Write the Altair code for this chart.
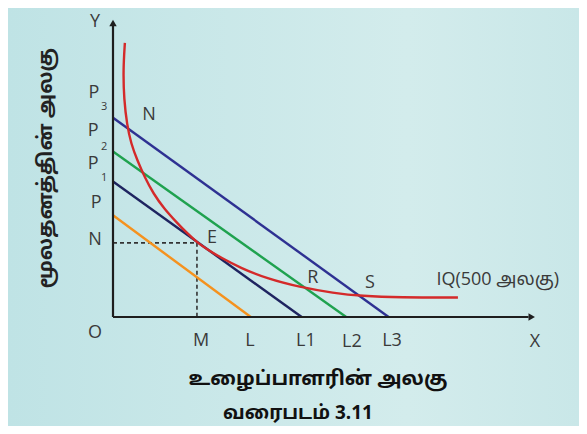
import altair as alt
import pandas as pd

# ---- data (abstract units: x 0..20, y 0..15) ----
line_names = ["L", "L1", "L2", "L3"]
line_y_intercepts = [5.1, 6.8, 8.3, 10.0]
line_x_intercepts = [6.5, 8.9, 11.0, 13.0]
line_colors = ["#f5921e", "#1e2460", "#1fa24f", "#2e3192"]

iq_x = [0.56, 0.48, 0.52, 0.66, 0.85, 1.15, 1.5, 1.9, 2.4, 3.0, 3.5, 3.96, 4.5,
        5.05, 6.0, 7.25, 8.8, 10.4, 11.75, 13.5, 16.27]
iq_y = [13.75, 12.4, 10.9, 9.65, 8.7, 7.85, 7.0, 6.2, 5.45, 4.75, 4.2, 3.75, 3.35,
        3.0, 2.47, 1.93, 1.5, 1.2, 1.05, 0.98, 0.98]

e_x, e_y = 3.96, 3.72

label_text = ["Y", "P", "P", "P", "P", "N", "O", "M", "L", "L1", "L2", "L3", "X",
              "N", "E", "R", "S", "IQ(500 அலகு)"]
label_x = [-0.85, -0.9, -0.94, -0.94, -0.8, -0.85, -0.85, 4.15, 6.46, 9.1, 11.27, 13.16, 19.9,
           1.7, 4.67, 9.43, 12.12, 18.15]
label_y = [14.8, 11.24, 9.33, 7.68, 5.72, 3.86, -0.8, -1.2, -1.2, -1.2, -1.25, -1.2, -1.25,
           10.14, 3.96, 1.96, 1.7, 1.86]

sub_text = ["3", "2", "1"]
sub_x = [-0.42, -0.42, -0.42]
sub_y = [10.54, 8.53, 6.97]

y_title = "மூலதனத்தின் அலகு"
x_title = "உழைப்பாளரின் அலகு"
caption = "வரைபடம் 3.11"

# ---- tables ----
rows = []
for n, yi, xi in zip(line_names, line_y_intercepts, line_x_intercepts):
    rows.append({"name": n, "x": 0.0, "y": yi})
    rows.append({"name": n, "x": xi, "y": 0.0})
lines_df = pd.DataFrame(rows)
iq_df = pd.DataFrame({"x": iq_x, "y": iq_y, "i": list(range(len(iq_x)))})
lab_df = pd.DataFrame({"t": label_text, "x": label_x, "y": label_y})
sub_df = pd.DataFrame({"t": sub_text, "x": sub_x, "y": sub_y})

xs = alt.Scale(domain=[0, 20], nice=False, zero=False)
ys = alt.Scale(domain=[0, 15], nice=False, zero=False)
X = lambda f="x": alt.X(f, type="quantitative", scale=xs, axis=None)
Y = lambda f="y": alt.Y(f, type="quantitative", scale=ys, axis=None)

one = pd.DataFrame({"a": [0]})
bg = alt.Chart(one).mark_rect(
    color=alt.LinearGradient(gradient="linear", x1=0, y1=0, x2=1, y2=0,
                             stops=[alt.GradientStop(color="#bfe3e5", offset=0),
                                    alt.GradientStop(color="#d3ecec", offset=0.7),
                                    alt.GradientStop(color="#c9e7e8", offset=1)])
).encode(x=alt.value(-105), x2=alt.value(466), y=alt.value(-10), y2=alt.value(408))

axes_df = pd.DataFrame({"x": [0, 0], "y": [0, 0], "x2": [0, 19.6], "y2": [14.6, 0]})
axes = alt.Chart(axes_df).mark_rule(color="#1e1e1e", strokeWidth=2.2).encode(
    x=X(), y=Y(), x2="x2", y2="y2")
arrows_df = pd.DataFrame({"x": [0, 19.75], "y": [14.75, 0], "s": ["triangle-up", "triangle-right"]})
arrows = alt.Chart(arrows_df).mark_point(filled=True, opacity=1, color="#1e1e1e", size=55).encode(
    x=X(), y=Y(), shape=alt.Shape("s:N", scale=None, legend=None))

dash_df = pd.DataFrame({"x": [0, e_x], "y": [e_y, e_y], "x2": [e_x, e_x], "y2": [e_y, 0]})
dashes = alt.Chart(dash_df).mark_rule(color="#333333", strokeWidth=1.6, strokeDash=[4, 3]).encode(
    x=X(), y=Y(), x2="x2", y2="y2")

budget = alt.Chart(lines_df).mark_line(strokeWidth=2.4).encode(
    x=X(), y=Y(), detail="name:N",
    color=alt.Color("name:N", scale=alt.Scale(domain=line_names, range=line_colors), legend=None))

iq = alt.Chart(iq_df).mark_line(color="#d42a2a", strokeWidth=2.4, interpolate="basis").encode(
    x=X(), y=Y(), order="i:Q")

tamil_font = "Noto Sans Tamil, Lohit Tamil, Latha, sans-serif"
labels = alt.Chart(lab_df).mark_text(font="Open Sans, " + tamil_font, fontSize=18, color="#3a3a3a").encode(
    x=X(), y=Y(), text="t:N")
subs = alt.Chart(sub_df).mark_text(font="Open Sans", fontSize=11, color="#3a3a3a").encode(
    x=X(), y=Y(), text="t:N")

ytitle = alt.Chart(pd.DataFrame({"t": [y_title]})).mark_text(
    font=tamil_font, fontSize=20, fontWeight="bold", angle=270, color="#222222").encode(
    x=alt.value(-67), y=alt.value(150), text="t:N")
xtitle = alt.Chart(pd.DataFrame({"t": [x_title]})).mark_text(
    font=tamil_font, fontSize=20, fontWeight="bold", color="#111111").encode(
    x=alt.value(205), y=alt.value(361), text="t:N")
cap = alt.Chart(pd.DataFrame({"t": [caption]})).mark_text(
    font=tamil_font + ", Arial", fontSize=19, fontWeight="bold", color="#111111").encode(
    x=alt.value(185), y=alt.value(395), text="t:N")

chart = alt.layer(bg, dashes, budget, iq, axes, arrows, labels, subs, ytitle, xtitle, cap).properties(
    width=424, height=299,
    autosize=alt.AutoSizeParams(type="none"),
    padding={"left": 105, "top": 10, "right": 42, "bottom": 109},
).configure_view(stroke=None).configure(background="#c8e7e8")

chart.save("out.html", embed_options={"renderer": "svg", "actions": False})
